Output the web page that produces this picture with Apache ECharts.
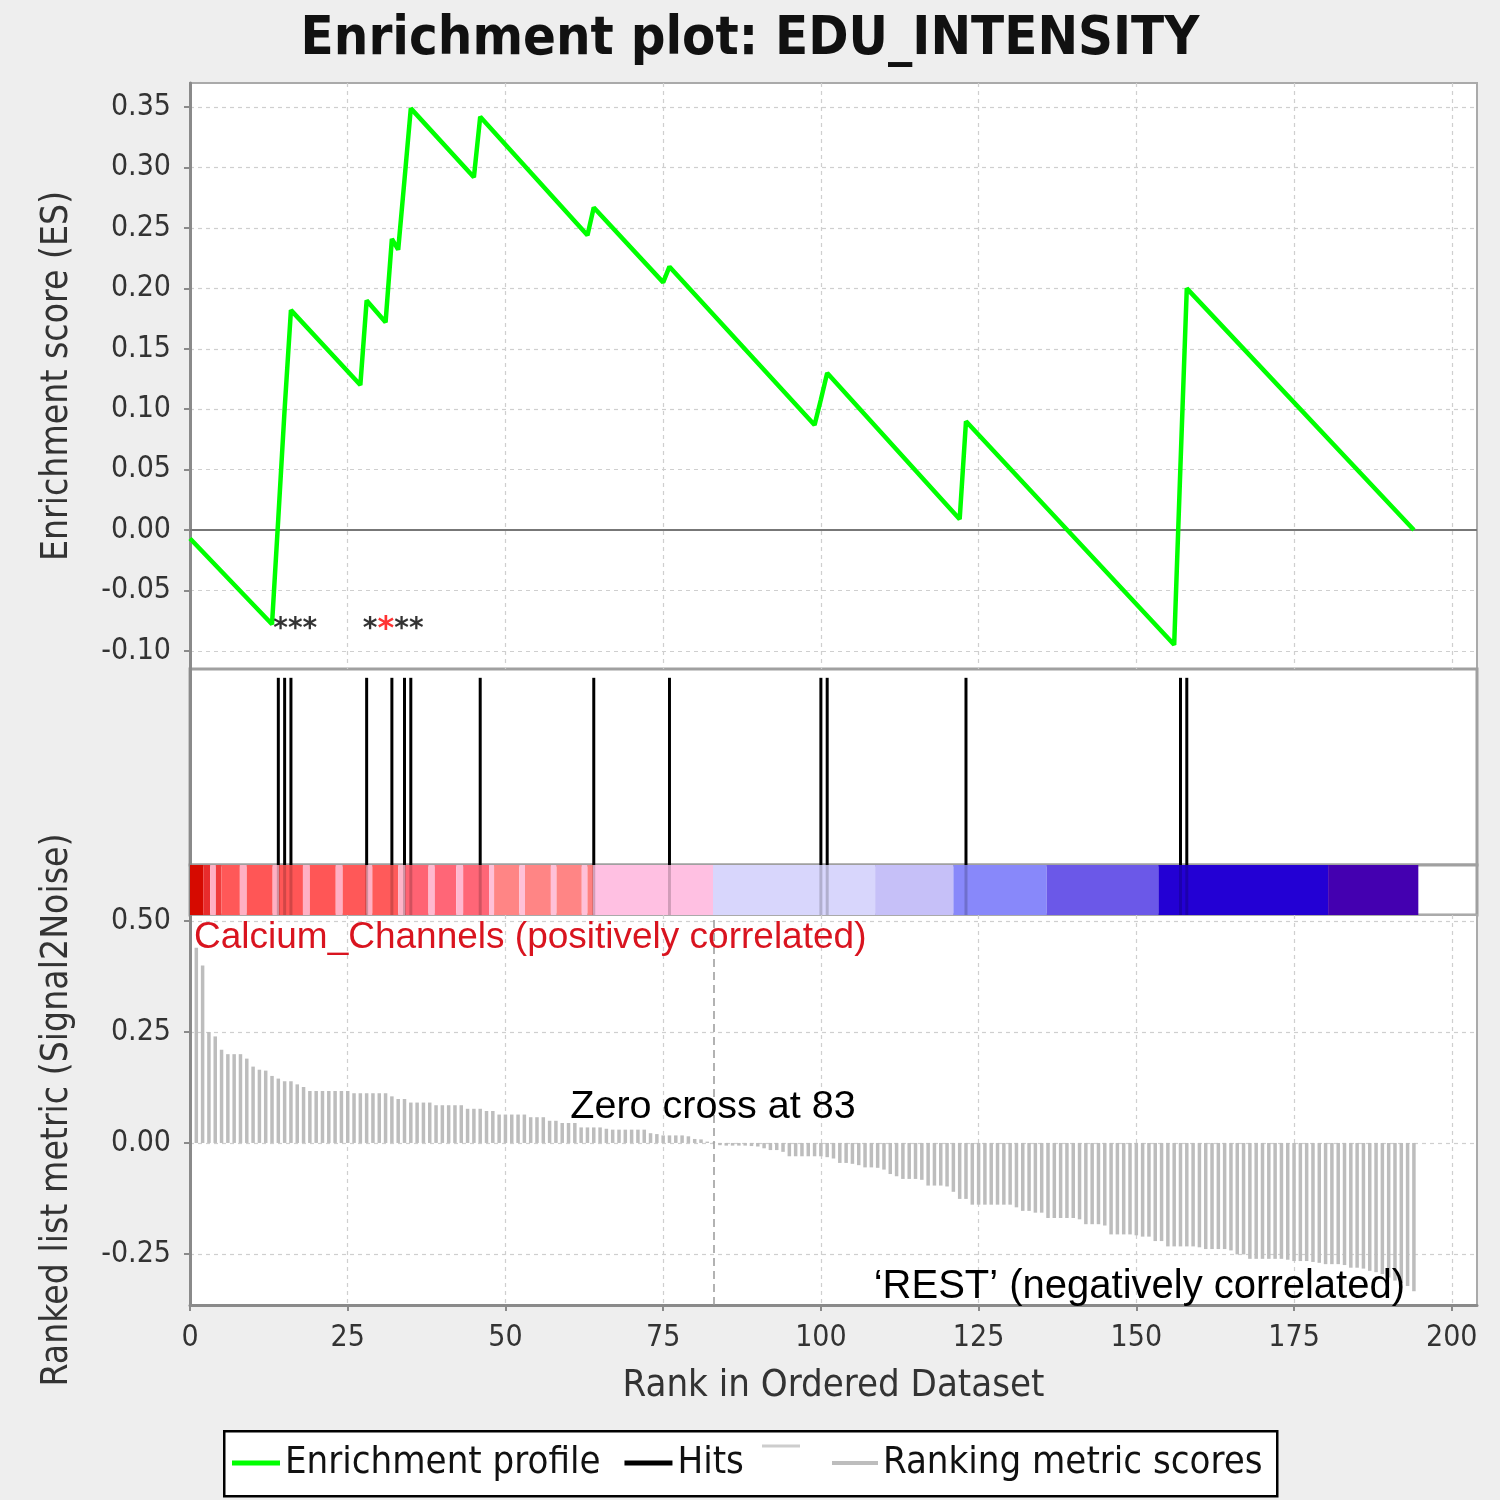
<!DOCTYPE html>
<html><head><meta charset="utf-8">
<script src="https://cdn.jsdelivr.net/npm/echarts@6/dist/echarts.min.js"></script>
<style>html,body{margin:0;padding:0;background:#eeeeee;}#c{width:1500px;height:1500px;}</style>
</head><body><div id="c"></div>
<script>
// ---- data ----
const esRank  = [0, 13, 14, 15, 16, 27, 28, 31, 32, 33, 34, 35, 45, 46, 63, 64, 75, 76, 99, 100, 101, 122, 123, 156, 157, 158, 194];
const esValue = [-0.007, -0.078, 0.010, 0.100, 0.182, 0.120, 0.190, 0.172, 0.241, 0.232, 0.290, 0.349, 0.292, 0.342, 0.244, 0.267, 0.205, 0.218, 0.087, 0.108, 0.130, 0.009, 0.090, -0.095, 0.054, 0.200, 0.000];
const hitRanks = [14, 15, 16, 28, 32, 34, 35, 46, 64, 76, 100, 101, 123, 157, 158];
const metricValues = [
  0.44, 0.40, 0.25, 0.24, 0.21, 0.20, 0.20, 0.20, 0.19, 0.172,
  0.165, 0.163, 0.151, 0.145, 0.139, 0.139, 0.132, 0.126, 0.117, 0.117,
  0.117, 0.117, 0.117, 0.117, 0.117, 0.112, 0.112, 0.112, 0.112, 0.112,
  0.112, 0.105, 0.099, 0.099, 0.091, 0.091, 0.091, 0.091, 0.085, 0.085,
  0.085, 0.085, 0.085, 0.077, 0.077, 0.077, 0.072, 0.072, 0.064, 0.064,
  0.064, 0.064, 0.064, 0.058, 0.058, 0.058, 0.050, 0.050, 0.045, 0.045,
  0.045, 0.035, 0.035, 0.035, 0.035, 0.032, 0.030, 0.030, 0.030, 0.030,
  0.030, 0.030, 0.022, 0.020, 0.017, 0.017, 0.017, 0.017, 0.015, 0.009,
  0.008, 0.003, 0.001, -0.005, -0.006, -0.006, -0.006, -0.006, -0.007, -0.008,
  -0.012, -0.016, -0.016, -0.020, -0.030, -0.030, -0.030, -0.030, -0.030, -0.030,
  -0.032, -0.035, -0.045, -0.045, -0.047, -0.050, -0.055, -0.055, -0.056, -0.060,
  -0.070, -0.075, -0.081, -0.081, -0.081, -0.083, -0.096, -0.096, -0.096, -0.098,
  -0.110, -0.126, -0.126, -0.139, -0.139, -0.139, -0.139, -0.139, -0.139, -0.139,
  -0.145, -0.153, -0.153, -0.157, -0.157, -0.169, -0.169, -0.169, -0.169, -0.169,
  -0.172, -0.183, -0.183, -0.183, -0.186, -0.206, -0.206, -0.206, -0.206, -0.208,
  -0.211, -0.211, -0.221, -0.221, -0.233, -0.233, -0.233, -0.233, -0.233, -0.235,
  -0.239, -0.239, -0.239, -0.239, -0.242, -0.251, -0.251, -0.261, -0.261, -0.261,
  -0.261, -0.261, -0.261, -0.263, -0.266, -0.266, -0.266, -0.268, -0.270, -0.273,
  -0.273, -0.273, -0.275, -0.281, -0.281, -0.283, -0.288, -0.291, -0.295, -0.303,
  -0.310, -0.315, -0.322, -0.334
];
const segStart = [0, 2.1, 3.2, 4.1, 5.0, 7.9, 9.0, 13.1, 14.1, 17.9, 19.0, 23.1, 24.2, 28.0, 28.9, 33.0, 34.1, 37.8, 38.8, 42.2, 43.3, 47.4, 48.2, 52.2, 53.1, 57.2, 58.1, 62.1, 63.0, 63.9, 82.9, 108.6, 121.0, 135.8, 153.5, 180.4];
const segEnd   = [2.1, 3.2, 4.1, 5.0, 7.9, 9.0, 13.1, 14.1, 17.9, 19.0, 23.1, 24.2, 28.0, 28.9, 33.0, 34.1, 37.8, 38.8, 42.2, 43.3, 47.4, 48.2, 52.2, 53.1, 57.2, 58.1, 62.1, 63.0, 63.9, 82.9, 108.6, 121.0, 135.8, 153.5, 180.4, 194.7];
const segColor = ['#d60a00', '#e82c2c', '#ffb0c4', '#f03c3c', '#ff5858', '#ffb0c4', '#ff5656', '#ffb0c4', '#ff5656', '#ffb0c4',
  '#ff5656', '#ffb0c4', '#ff5858', '#ffb0c4', '#ff5a5a', '#ffb4c8', '#ff6373', '#ffb8d0', '#ff6677', '#ffb8d0',
  '#ff6677', '#ffc0d8', '#ff8585', '#ffc0d8', '#ff8585', '#ffc0d8', '#ff8585', '#ffc0d8', '#ff8080', '#ffc0e2',
  '#d8d6fc', '#c6c0f8', '#8888fa', '#6b58e8', '#2300d4', '#4400b0'];
const xTicks = [0, 25, 50, 75, 100, 125, 150, 175, 200];
const esTicks = [-0.10, -0.05, 0, 0.05, 0.10, 0.15, 0.20, 0.25, 0.30, 0.35];
const metricTicks = [-0.25, 0, 0.25, 0.50];
const zeroCross = 83;
const geneSetName = 'Calcium_Channels';

// ---- chart ----
const COND = '"DejaVu Sans Condensed", "DejaVu Sans", sans-serif';
const HELV = '"Liberation Sans", Arial, sans-serif';
const L = 190, W = 1287;
const dashGrid = {show: true, lineStyle: {color: '#cfcfcf', width: 1.2, type: [4, 4]}};
const fmt = v => Number(v).toFixed(2);

function xAxisFor(i) {
  const bottom = (i === 3);
  return {
    type: 'value', gridIndex: i, min: 0, max: 204,
    axisLine: {show: bottom, onZero: false, lineStyle: {color: '#8a8a8a', width: 3}},
    axisTick: {show: bottom, length: 6, customValues: xTicks, lineStyle: {color: '#8a8a8a', width: 2}},
    axisLabel: {show: bottom, customValues: xTicks, margin: 18, fontFamily: COND, fontSize: 30, color: '#333'},
    splitLine: (i === 0 || i === 3) ? dashGrid : {show: false},
    name: bottom ? 'Rank in Ordered Dataset' : '',
    nameLocation: 'middle', nameGap: 62,
    nameTextStyle: {fontFamily: COND, fontSize: 38, color: '#333'}
  };
}
const plainY = i => ({
  type: 'value', gridIndex: i, min: 0, max: 1,
  axisLine: {show: true, lineStyle: {color: '#8a8a8a', width: 3}},
  axisTick: {show: false}, axisLabel: {show: false}, splitLine: {show: false}
});

const option = {
  backgroundColor: '#eeeeee',
  animation: false,
  title: {
    text: 'Enrichment plot: EDU_INTENSITY', left: 'center', top: 8,
    textStyle: {fontFamily: COND, fontWeight: 'bold', fontSize: 54, color: '#111'}
  },
  grid: [
    {left: L, top: 83, width: W, height: 586, show: true, backgroundColor: '#fff', borderColor: '#aaa', borderWidth: 2, outerBoundsMode: 'none'},
    {left: L, top: 669, width: W, height: 196, show: true, backgroundColor: '#fff', borderColor: '#a0a0a0', borderWidth: 3, outerBoundsMode: 'none'},
    {left: L, top: 865, width: W, height: 50, show: true, backgroundColor: '#fff', borderColor: '#a0a0a0', borderWidth: 3, outerBoundsMode: 'none'},
    {left: L, top: 915, width: W, height: 390, show: true, backgroundColor: '#fff', borderColor: '#aaa', borderWidth: 2, outerBoundsMode: 'none'}
  ],
  xAxis: [xAxisFor(0), xAxisFor(1), xAxisFor(2), xAxisFor(3)],
  yAxis: [
    {
      type: 'value', gridIndex: 0, min: -0.115, max: 0.37,
      axisLine: {show: true, onZero: false, lineStyle: {color: '#8a8a8a', width: 3}},
      axisTick: {show: true, length: 6, customValues: esTicks, lineStyle: {color: '#8a8a8a', width: 2}},
      axisLabel: {customValues: esTicks, formatter: fmt, margin: 19, fontFamily: COND, fontSize: 30, color: '#333'},
      splitLine: dashGrid,
      name: 'Enrichment score (ES)', nameLocation: 'middle', nameGap: 114,
      nameTextStyle: {fontFamily: COND, fontSize: 37, color: '#333'}
    },
    plainY(1), plainY(2),
    {
      type: 'value', gridIndex: 3, min: -0.365, max: 0.5135,
      axisLine: {show: true, onZero: false, lineStyle: {color: '#8a8a8a', width: 3}},
      axisTick: {show: true, length: 6, customValues: metricTicks, lineStyle: {color: '#8a8a8a', width: 2}},
      axisLabel: {customValues: metricTicks, formatter: fmt, margin: 19, fontFamily: COND, fontSize: 30, color: '#333'},
      splitLine: dashGrid,
      name: 'Ranked list metric (Signal2Noise)', nameLocation: 'middle', nameGap: 114,
      nameTextStyle: {fontFamily: COND, fontSize: 37, color: '#333'}
    }
  ],
  legend: [
    {left: 232, top: 1443, padding: 0, itemGap: 24, itemWidth: 48, itemHeight: 5, icon: 'rect', selectedMode: false, z: 5,
     data: ['Enrichment profile', 'Hits'],
     textStyle: {fontFamily: COND, fontSize: 38, color: '#111', lineHeight: 40}},
    {left: 832, top: 1443, padding: 0, itemWidth: 46, itemHeight: 4, icon: 'rect', selectedMode: false, z: 5,
     data: ['Ranking metric scores'],
     textStyle: {fontFamily: COND, fontSize: 38, color: '#111', lineHeight: 40}}
  ],
  graphic: [
    {type: 'rect', left: 223, top: 1430, z: 1, shape: {width: 1053, height: 65}, style: {fill: '#fff', stroke: '#000', lineWidth: 2.5}},
    {type: 'line', z: 2, shape: {x1: 762, y1: 1446, x2: 800, y2: 1446}, style: {stroke: '#cdcdcd', lineWidth: 3}},
    {type: 'text', left: 194, top: 919, z: 10,
     style: {text: geneSetName + ' (positively correlated)', font: '37px ' + HELV, fill: '#d9141f'}},
    {type: 'text', x: 713, y: 1107, z: 10,
     style: {text: 'Zero cross at ' + zeroCross, font: '39.5px ' + HELV, fill: '#000', align: 'center', verticalAlign: 'middle'}},
    {type: 'text', x: 1405, y: 1287, z: 10,
     style: {text: '\u2018REST\u2019 (negatively correlated)', font: '40px ' + HELV, fill: '#000', align: 'right', verticalAlign: 'middle'}}
  ],
  series: [
    {
      name: 'Enrichment profile', type: 'line', xAxisIndex: 0, yAxisIndex: 0,
      data: esRank.map((r, i) => [r, esValue[i]]),
      showSymbol: false, symbol: 'none', z: 5,
      lineStyle: {color: '#00ff00', width: 4.5}, itemStyle: {color: '#00ff00'},
      markLine: {silent: true, symbol: 'none', label: {show: false}, z: 3,
        lineStyle: {color: '#777', width: 2, type: 'solid'}, data: [{yAxis: 0}]}
    },
    {
      name: 'asterisks', type: 'scatter', xAxisIndex: 0, yAxisIndex: 0, symbolSize: 0, z: 6, silent: true,
      data: [
        {value: [hitRanks[0] - 0.8, esValue[1]], label: {formatter: '{k|***}'}},
        {value: [hitRanks[3] - 0.6, esValue[1]], label: {formatter: '{k|*}{r|*}{k|**}'}}
      ],
      label: {show: true, position: 'right', distance: 0, offset: [0, 5],
        rich: {k: {fontFamily: '"DejaVu Sans", sans-serif', fontWeight: 'bold', fontSize: 28, color: '#000'},
               r: {fontFamily: '"DejaVu Sans", sans-serif', fontWeight: 'bold', fontSize: 32, color: '#ff0000'}}}
    },
    {
      name: 'Hits', type: 'bar', xAxisIndex: 1, yAxisIndex: 1, barWidth: 3,
      itemStyle: {color: '#000'},
      data: hitRanks.map(r => [r, 0.955])
    },
    {
      name: 'colorbar', type: 'custom', xAxisIndex: 2, yAxisIndex: 2, z: 2, silent: true,
      encode: {x: [0, 1]},
      data: segStart.map((s, i) => [s, segEnd[i]]),
      renderItem: function (params, api) {
        const p0 = api.coord([api.value(0), 1]);
        const p1 = api.coord([api.value(1), 0]);
        return {type: 'rect', shape: {x: p0[0], y: p0[1], width: p1[0] - p0[0], height: p1[1] - p0[1]},
          style: {fill: segColor[params.dataIndex]}};
      }
    },
    {
      name: 'hitShade', type: 'bar', xAxisIndex: 2, yAxisIndex: 2, barWidth: 3, z: 4, silent: true,
      itemStyle: {color: 'rgba(0,0,0,0.18)'},
      data: hitRanks.map(r => [r, 1])
    },
    {
      name: 'Ranking metric scores', type: 'bar', xAxisIndex: 3, yAxisIndex: 3, barWidth: 3.5,
      itemStyle: {color: '#bdbdbd'},
      data: metricValues.map((v, i) => [i + 1, v]),
      markLine: {silent: true, symbol: 'none', label: {show: false},
        lineStyle: {color: '#999', width: 1.5, type: [8, 5]}, data: [{xAxis: zeroCross}]}
    }
  ]
};
const chart = echarts.init(document.getElementById('c'), null, {renderer: 'canvas'});
chart.setOption(option);
</script>
</body></html>
